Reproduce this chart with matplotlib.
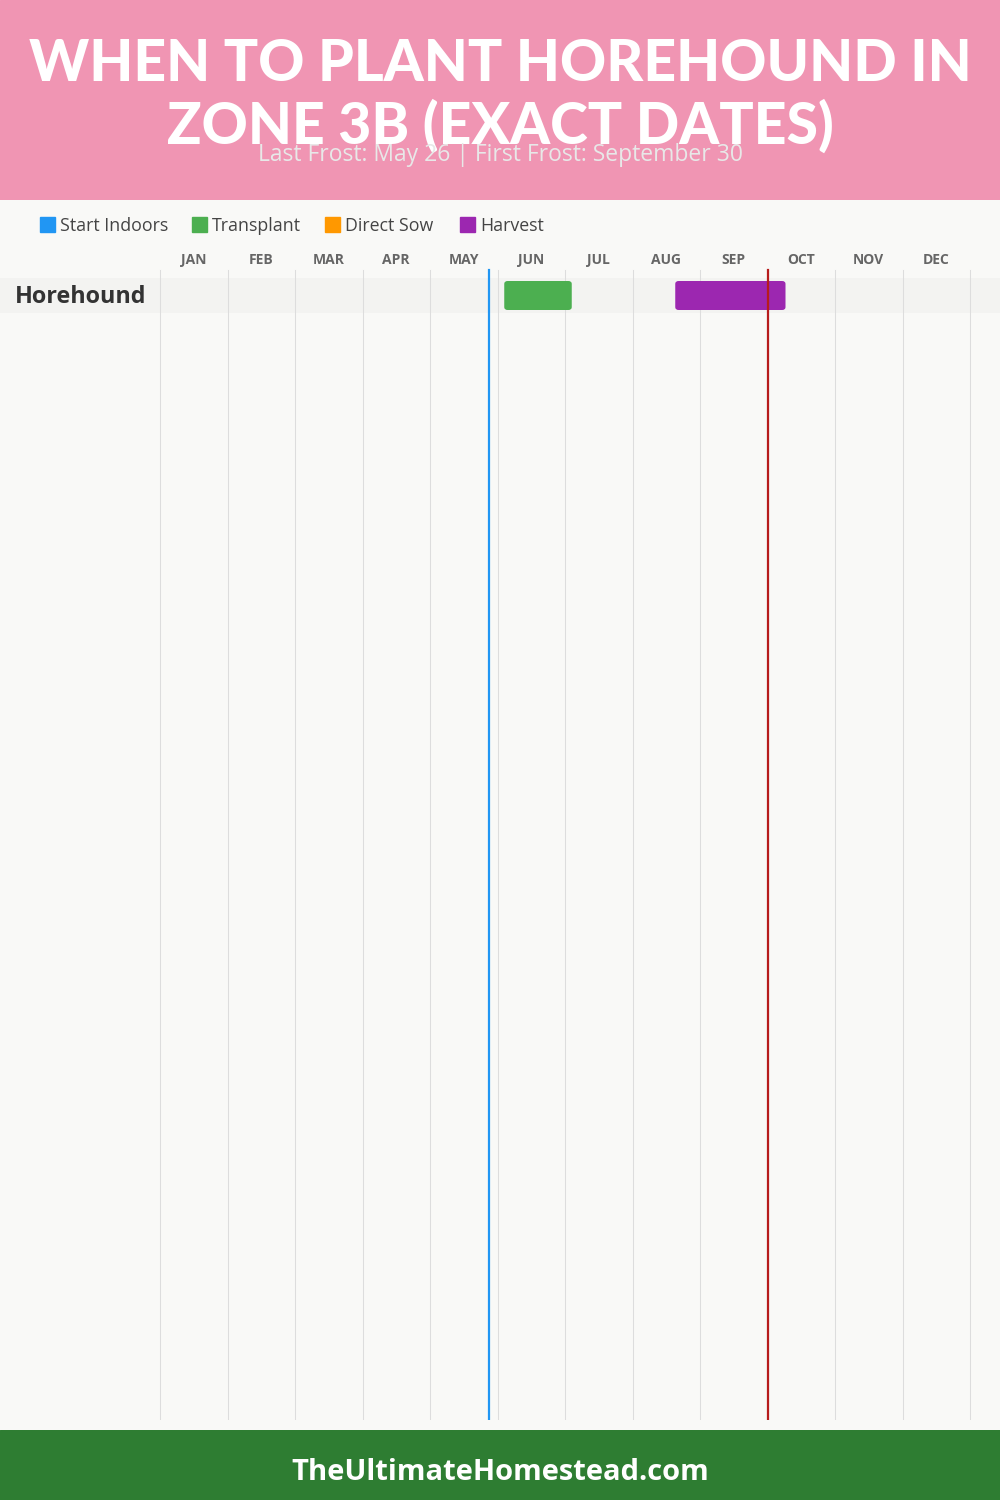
import matplotlib
matplotlib.use("Agg")
import matplotlib.pyplot as plt
from matplotlib.patches import FancyBboxPatch, Rectangle

# ---- data ----
months = ["JAN", "FEB", "MAR", "APR", "MAY", "JUN", "JUL", "AUG", "SEP", "OCT", "NOV", "DEC"]
plants = ["Horehound"]
legend_labels = ["Start Indoors", "Transplant", "Direct Sow", "Harvest"]
legend_colors = ["#2196f3", "#4caf50", "#ff9800", "#9c27b0"]
# (month, day) start / end for each activity per plant
transplant = [((6, 3), (7, 3))]
harvest = [((8, 19), (10, 8))]
last_frost = (5, 26)
first_frost = (9, 30)
title = "WHEN TO PLANT HOREHOUND IN\nZONE 3B (EXACT DATES)"
subtitle = "Last Frost: May 26 | First Frost: September 30"
footer = "TheUltimateHomestead.com"


def pos(md):
    m, d = md
    return (m - 1) + d / 30.0


W, H = 1000, 1500
fig = plt.figure(figsize=(10, 15), dpi=100)
fig.patch.set_facecolor("#f9f9f7")

# header / footer bands
hdr = fig.add_axes([0, 1 - 200 / H, 1, 200 / H])
hdr.set_axis_off()
hdr.add_patch(Rectangle((0, 0), 1, 1, color="#f095b3", transform=hdr.transAxes))
ftr = fig.add_axes([0, 0, 1, 70 / H])
ftr.set_axis_off()
ftr.add_patch(Rectangle((0, 0), 1, 1, color="#2e7d32", transform=ftr.transAxes))

fig.text(0.5, 1 - 96 / H, title, ha="center", va="center", color="white",
         fontsize=41, fontweight="black", family="Lato", linespacing=1.17)
fig.text(0.5, 1 - 155 / H, subtitle, ha="center", va="center", color="#e8e8e8",
         fontsize=16.5, family="Open Sans")
fig.text(0.5, 1 - 1473 / H, footer, ha="center", va="center", color="white",
         fontsize=21, fontweight="bold", family="Open Sans")

# legend
lx = [40, 192, 325, 460]
for x0, lab, col in zip(lx, legend_labels, legend_colors):
    fig.add_artist(Rectangle((x0 / W, 1 - 232 / H), 15 / W, 15 / H, color=col,
                             transform=fig.transFigure))
    fig.text((x0 + 20) / W, 1 - 226 / H, lab, ha="left", va="center",
             color="#444444", fontsize=12.8, family="Open Sans")

# main chart axes: spans full width, y 245..1420 px
top_px, bot_px = 245, 1420
ax = fig.add_axes([0, 1 - bot_px / H, 1, (bot_px - top_px) / H])
ax.set_facecolor("none")
mw = 67.5
ax.set_xlim(-160 / mw, (1000 - 160) / mw)
ax.set_ylim(bot_px - top_px, 0)
ax.set_axis_off()

# month labels
for i, m in enumerate(months):
    ax.text(i + 0.5, 260 - top_px, m, ha="center", va="center", color="#666666",
            fontsize=10, fontweight="bold", family="Open Sans")

# grid lines
for i in range(13):
    ax.plot([i, i], [270 - top_px, bot_px - top_px], color="#dddddd", lw=0.75, zorder=1)

row_h = 35
for r, name in enumerate(plants):
    yc = 295.5 - top_px + r * row_h
    ax.add_patch(Rectangle((ax.get_xlim()[0], yc - row_h / 2), ax.get_xlim()[1] - ax.get_xlim()[0],
                           row_h, color="#f3f3f1", zorder=0.5, lw=0))
    ax.text(15 / mw - 160 / mw, yc + 1.5, name, ha="left", va="center", color="#333333",
            fontsize=16.8, fontweight="bold", family="Open Sans", zorder=3)
    for seg, col in ((transplant[r], legend_colors[1]), (harvest[r], legend_colors[3])):
        s, e = pos(seg[0]), pos(seg[1])
        ax.add_patch(FancyBboxPatch((s, yc - 14.5), e - s, 29,
                                    boxstyle="round,pad=0,rounding_size=0.05",
                                    mutation_aspect=60, color=col, lw=0, zorder=2))

ax.plot([pos(last_frost)] * 2, [270 - top_px, bot_px - top_px], color="#2196f3", lw=1.6, zorder=4)
ax.plot([pos(first_frost)] * 2, [270 - top_px, bot_px - top_px], color="#b71c1c", lw=1.6, zorder=4)

fig.savefig("out.png", dpi=100, facecolor=fig.get_facecolor())
